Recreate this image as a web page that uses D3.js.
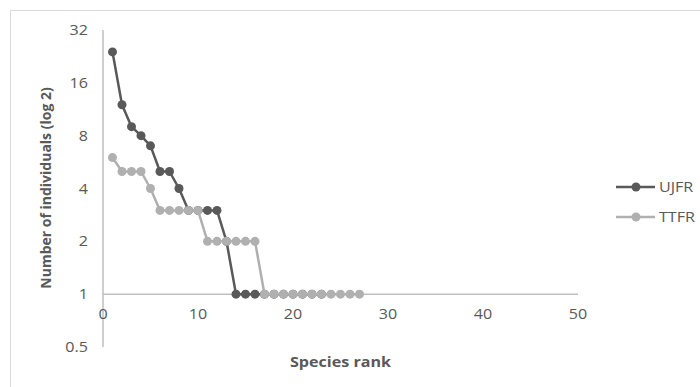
<!DOCTYPE html>
<html>
<head>
<meta charset="utf-8">
<script src="https://cdn.jsdelivr.net/npm/d3@7"></script>
<style>
  body { margin: 0; background: #fff; }
  svg { display: block; font-family: "Open Sans", sans-serif; }
</style>
</head>
<body>
<svg id="chart" width="700" height="387"></svg>
<script>
// Species rank (x) and number of individuals (y) for each site
var ranksUJFR = [1, 2, 3, 4, 5, 6, 7, 8, 9, 10, 11, 12, 13, 14, 15, 16, 17, 18, 19, 20, 21, 22, 23];
var valuesUJFR = [24, 12, 9, 8, 7, 5, 5, 4, 3, 3, 3, 3, 2, 1, 1, 1, 1, 1, 1, 1, 1, 1, 1];
var ranksTTFR = [1, 2, 3, 4, 5, 6, 7, 8, 9, 10, 11, 12, 13, 14, 15, 16, 17, 18, 19, 20, 21, 22, 23, 24, 25, 26, 27];
var valuesTTFR = [6, 5, 5, 5, 4, 3, 3, 3, 3, 3, 2, 2, 2, 2, 2, 2, 1, 1, 1, 1, 1, 1, 1, 1, 1, 1, 1];
var xTicks = [0, 10, 20, 30, 40, 50];
var yTicks = [0.5, 1, 2, 4, 8, 16, 32];
var seriesNames = ['UJFR', 'TTFR'];

var svg = d3.select('#chart');

// the source picture is a bit stretched sideways, so horizontal text gets widened
var stretch = 1.15;

// Puts a horizontal label at (px, py), widened by the stretch factor
function label(parent, px, py, txt, anchor, bold) {
    return parent.append('text')
        .attr('transform', 'translate(' + px + ',' + py + ') scale(' + stretch + ',1)')
        .attr('text-anchor', anchor)
        .attr('fill', labelColor)
        .style('font-size', '14px')
        .style('font-weight', bold ? 'bold' : 'normal')
        .text(txt);
}

// Outer chart border (only top and left edges show in the picture)
svg.append('path')
    .attr('d', 'M10.5,387 L10.5,10.5 L700,10.5')
    .attr('fill', 'none')
    .attr('stroke', '#d9d9d9');

// Scales
var x = d3.scaleLinear().domain([0, 50]).range([103, 578]);
var y = d3.scaleLog().base(2).domain([0.5, 32]).range([347, 30]);

var axisColor = '#bfbfbf', labelColor = '#595959';

// Vertical axis line
svg.append('line')
    .attr('x1', x(0)).attr('x2', x(0))
    .attr('y1', y(32)).attr('y2', y(0.5))
    .attr('stroke', axisColor).attr('stroke-width', 1.5);

// Horizontal axis crosses at y = 1
svg.append('line')
    .attr('x1', x(0)).attr('x2', x(50))
    .attr('y1', y(1)).attr('y2', y(1))
    .attr('stroke', axisColor).attr('stroke-width', 1.5);

// Y tick labels
yTicks.forEach(function(d) {
    label(svg, 88, y(d) + 5, d, 'end', false);
});

// X tick labels
xTicks.forEach(function(d) {
    label(svg, x(d), y(1) + 25, d, 'middle', false);
});

// Axis titles
label(svg, x(25), 367, 'Species rank', 'middle', true);

svg.append('text')
    .attr('transform', 'translate(51,188) rotate(-90)')
    .attr('text-anchor', 'middle')
    .attr('fill', labelColor)
    .style('font-size', '14px')
    .style('font-weight', 'bold')
    .text('Number of individuals (log 2)');

// Series lines and markers
var series = [
    { name: seriesNames[0], ranks: ranksUJFR, values: valuesUJFR, color: '#595959' },
    { name: seriesNames[1], ranks: ranksTTFR, values: valuesTTFR, color: '#b0b0b0' }
];

var line = d3.line()
    .x(function(d) { return x(d[0]); })
    .y(function(d) { return y(d[1]); });

series.forEach(function(s) {
    var pts = s.ranks.map(function(r, i) { return [r, s.values[i]]; });
    svg.append('path')
        .datum(pts)
        .attr('d', line)
        .attr('fill', 'none')
        .attr('stroke', s.color)
        .attr('stroke-width', 2.5)
        .attr('stroke-linejoin', 'round');
    svg.selectAll(null)
        .data(pts)
        .enter().append('circle')
        .attr('cx', function(d) { return x(d[0]); })
        .attr('cy', function(d) { return y(d[1]); })
        .attr('r', 4.5)
        .attr('fill', s.color);
});

// Legend
series.forEach(function(s, i) {
    var g = svg.append('g')
        .attr('transform', 'translate(616,' + (187 + i * 30) + ')');
    g.append('line')
        .attr('x1', 0).attr('x2', 39)
        .attr('stroke', s.color)
        .attr('stroke-width', 2.5);
    g.append('circle')
        .attr('cx', 20).attr('r', 4.5)
        .attr('fill', s.color);
    label(g, 43, 5, s.name, 'start', false);
});
</script>
</body>
</html>
